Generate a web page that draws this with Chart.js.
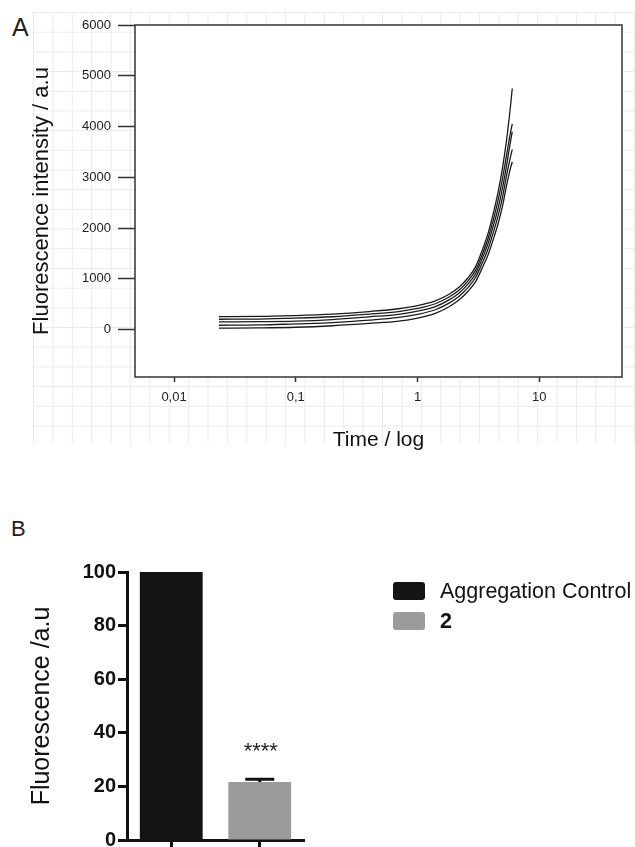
<!DOCTYPE html>
<html>
<head>
<meta charset="utf-8">
<script src="https://cdn.jsdelivr.net/npm/chart.js@4.4.0/dist/chart.umd.min.js"></script>
<style>
  body { margin:0; width:635px; height:847px; overflow:hidden; background:#fff; position:relative;
         font-family:"Liberation Sans", Arial, sans-serif; }
  .paper { position:absolute; left:33px; top:12px; width:602px; height:431px;
           background-image: linear-gradient(to right, #ebebeb 1px, transparent 1px),
                             linear-gradient(to bottom, #ebebeb 1px, transparent 1px);
           background-size: 19.4px 19.7px; }
  #kinetics { position:absolute; left:0; top:0; }
  #inhibition { position:absolute; left:0; top:500px; }
  .panel { position:absolute; color:#222; line-height:1; font-weight:normal; }
  .legend-item { position:absolute; left:393px; height:18px; display:flex; align-items:center; }
  .legend-item span.box { width:32px; height:18px; border-radius:3px; margin-right:15px; }
  .legend-item span.txt { font-size:21.5px; color:#111; white-space:nowrap; }
</style>
</head>
<body>
<div class="paper"></div>
<div class="panel" style="left:12px;top:15px;font-size:25px;">A</div>
<div class="panel" style="left:11px;top:518px;font-size:22px;">B</div>
<canvas id="kinetics" width="635" height="460"></canvas>
<canvas id="inhibition" width="635" height="400"></canvas>
<div id="legend"></div>
<script>
// panel A - fluorescence kinetics, 5 runs
var times = [0.0234, 0.05, 0.1, 0.2, 0.4, 0.7, 1.0, 1.4, 1.8, 2.2, 2.6, 3.0, 3.4, 3.8, 4.2, 4.6, 5.0, 5.4, 5.8, 6.0];
var run1 = [256, 258, 276, 305, 355, 410, 470, 565, 690, 840, 1020, 1240, 1560, 1900, 2300, 2720, 3200, 3750, 4400, 4750];
var run2 = [203, 206, 223, 252, 303, 355, 415, 508, 635, 780, 960, 1170, 1480, 1800, 2170, 2560, 2990, 3450, 3880, 4050];
var run3 = [152, 155, 164, 195, 250, 300, 361, 450, 580, 720, 900, 1100, 1400, 1700, 2050, 2400, 2800, 3250, 3700, 3900];
var run4 = [85, 90, 112, 135, 185, 240, 300, 390, 515, 655, 830, 1030, 1310, 1590, 1920, 2250, 2620, 3050, 3400, 3550];
var run5 = [26, 32, 45, 75, 120, 165, 225, 320, 445, 585, 755, 945, 1215, 1475, 1785, 2095, 2440, 2850, 3180, 3300];
var yTicks = [0, 1000, 2000, 3000, 4000, 5000, 6000];
var xTicks = [0.01, 0.1, 1, 10];
var xTickLabels = ['0,01', '0,1', '1', '10'];

// panel B - end point fluorescence
var groups = ['Aggregation Control', '2'];
var fluorescence = [100, 21.6];
var fluorescenceErr = [0, 1.1];
var significance = ['', '****'];

Chart.defaults.font.family = '"Liberation Sans", Arial, sans-serif';
Chart.defaults.color = '#222';

function points(ys) {
	return times.map(function(t, i){ return {x: t, y: ys[i]}; });
}

var framePlugin = {
	id: 'frame',
	beforeDraw: function(chart){
		var a = chart.chartArea, ctx = chart.ctx;
		ctx.save();
		ctx.fillStyle = '#fff';
		ctx.fillRect(a.left, a.top, a.right - a.left, a.bottom - a.top);
		ctx.restore();
	},
	afterDraw: function(chart){
		var a = chart.chartArea, ctx = chart.ctx;
		ctx.save();
		ctx.strokeStyle = '#333';
		ctx.lineWidth = 1.5;
		ctx.strokeRect(a.left, a.top, a.right - a.left, a.bottom - a.top);
		ctx.restore();
	}
};

new Chart(document.getElementById('kinetics'), {
	type: 'line',
	data: {
		datasets: [run1, run2, run3, run4, run5].map(function(r, i){
			return {
				label: 'run ' + (i + 1),
				data: points(r),
				borderColor: '#1a1a1a',
				borderWidth: 1.3,
				pointRadius: 0,
				cubicInterpolationMode: 'monotone',
				fill: false
			};
		})
	},
	options: {
		responsive: false,
		animation: false,
		layout: { padding: { top: 25, right: 13, left: 0, bottom: 0 } },
		plugins: { legend: { display: false }, tooltip: { enabled: false } },
		scales: {
			x: {
				type: 'logarithmic',
				min: 0.00478,
				max: 47.8,
				afterBuildTicks: function(scale){
					scale.ticks = xTicks.map(function(v){ return {value: v}; });
				},
				afterFit: function(scale){ scale.height = 83; },
				ticks: {
					font: { size: 13 },
					color: '#222',
					padding: 8,
					maxRotation: 0,
					callback: function(v, i){ return xTickLabels[i]; }
				},
				grid: { drawOnChartArea: false, tickLength: 5, tickColor: '#333', tickWidth: 1.5 },
				border: { display: false },
				title: {
					display: true,
					text: 'Time / log',
					font: { size: 21 },
					color: '#111',
					padding: { top: 0, bottom: 7.4 }
				}
			},
			y: {
				min: -935,
				max: 6000,
				afterBuildTicks: function(scale){
					scale.ticks = yTicks.map(function(v){ return {value: v}; });
				},
				afterFit: function(scale){ scale.width = 135; },
				ticks: {
					font: { size: 13 },
					color: '#222',
					padding: 7,
					callback: function(v){ return String(v); }
				},
				grid: { drawOnChartArea: false, tickLength: 17, tickColor: '#333', tickWidth: 1.5 },
				border: { display: false },
				title: {
					display: true,
					text: 'Fluorescence intensity / a.u',
					font: { size: 22 },
					color: '#111',
					padding: { top: 29, bottom: 0 }
				}
			}
		}
	},
	plugins: [framePlugin]
});

var errorBars = {
	id: 'errorBars',
	afterDatasetsDraw: function(chart){
		var ctx = chart.ctx, ys = chart.scales.y;
		chart.data.datasets.forEach(function(ds, di){
			var meta = chart.getDatasetMeta(di);
			ds.data.forEach(function(v, i){
				if (v == null || !ds.errors || !ds.errors[i]) return;
				var bar = meta.data[i];
				var y0 = ys.getPixelForValue(v);
				var y1 = ys.getPixelForValue(v + ds.errors[i]);
				ctx.save();
				ctx.strokeStyle = '#111';
				ctx.lineWidth = 3;
				ctx.beginPath();
				ctx.moveTo(bar.x, y0);
				ctx.lineTo(bar.x, y1);
				ctx.moveTo(bar.x - 14.5, y1);
				ctx.lineTo(bar.x + 14.5, y1);
				ctx.stroke();
				if (ds.marks && ds.marks[i]) {
					ctx.fillStyle = '#222';
					ctx.font = '22px "Liberation Sans", Arial, sans-serif';
					ctx.textAlign = 'center';
					ctx.textBaseline = 'alphabetic';
					ctx.fillText(ds.marks[i], bar.x + 1, y1 - 21);
				}
				ctx.restore();
			});
		});
	}
};

var barChart = new Chart(document.getElementById('inhibition'), {
	type: 'bar',
	data: {
		labels: groups,
		datasets: [
			{
				label: groups[0],
				data: [fluorescence[0], null],
				errors: [fluorescenceErr[0], null],
				marks: [significance[0], null],
				backgroundColor: '#141414'
			},
			{
				label: groups[1],
				data: [null, fluorescence[1]],
				errors: [null, fluorescenceErr[1]],
				marks: [null, significance[1]],
				backgroundColor: '#9b9b9b',
				legendBold: true
			}
		]
	},
	options: {
		responsive: false,
		animation: false,
		skipNull: true,
		barPercentage: 0.71,
		categoryPercentage: 1,
		layout: { autoPadding: false, padding: { top: 72, right: 331, left: 0, bottom: 0 } },
		plugins: { legend: { display: false }, tooltip: { enabled: false } },
		scales: {
			x: {
				z: 1,
				afterFit: function(scale){ scale.height = 60; },
				ticks: { font: { size: 20, weight: 'bold' }, color: '#111', maxRotation: 0, autoSkip: false },
				grid: { offset: false, drawOnChartArea: false, tickLength: 12, tickColor: '#111', tickWidth: 3 },
				border: { color: '#111', width: 3 }
			},
			y: {
				min: 0,
				max: 100,
				afterFit: function(scale){ scale.width = 127; },
				ticks: { stepSize: 20, font: { size: 20, weight: 'bold' }, color: '#111', padding: 2 },
				grid: { drawOnChartArea: false, tickLength: 9, tickColor: '#111', tickWidth: 3 },
				border: { color: '#111', width: 3 },
				title: {
					display: true,
					text: 'Fluorescence /a.u',
					font: { size: 25 },
					color: '#111',
					padding: { top: 27.5, bottom: 0 }
				}
			}
		}
	},
	plugins: [errorBars]
});

// html legend built from the bar datasets
var legend = document.getElementById('legend');
barChart.data.datasets.forEach(function(ds, i){
	var item = document.createElement('div');
	item.className = 'legend-item';
	item.style.top = (582 + 30 * i) + 'px';
	item.innerHTML = '<span class="box" style="background:' + ds.backgroundColor + '"></span>' +
		'<span class="txt" style="font-weight:' + (ds.legendBold ? 'bold' : 'normal') + '">' + ds.label + '</span>';
	legend.appendChild(item);
});
</script>
</body>
</html>
